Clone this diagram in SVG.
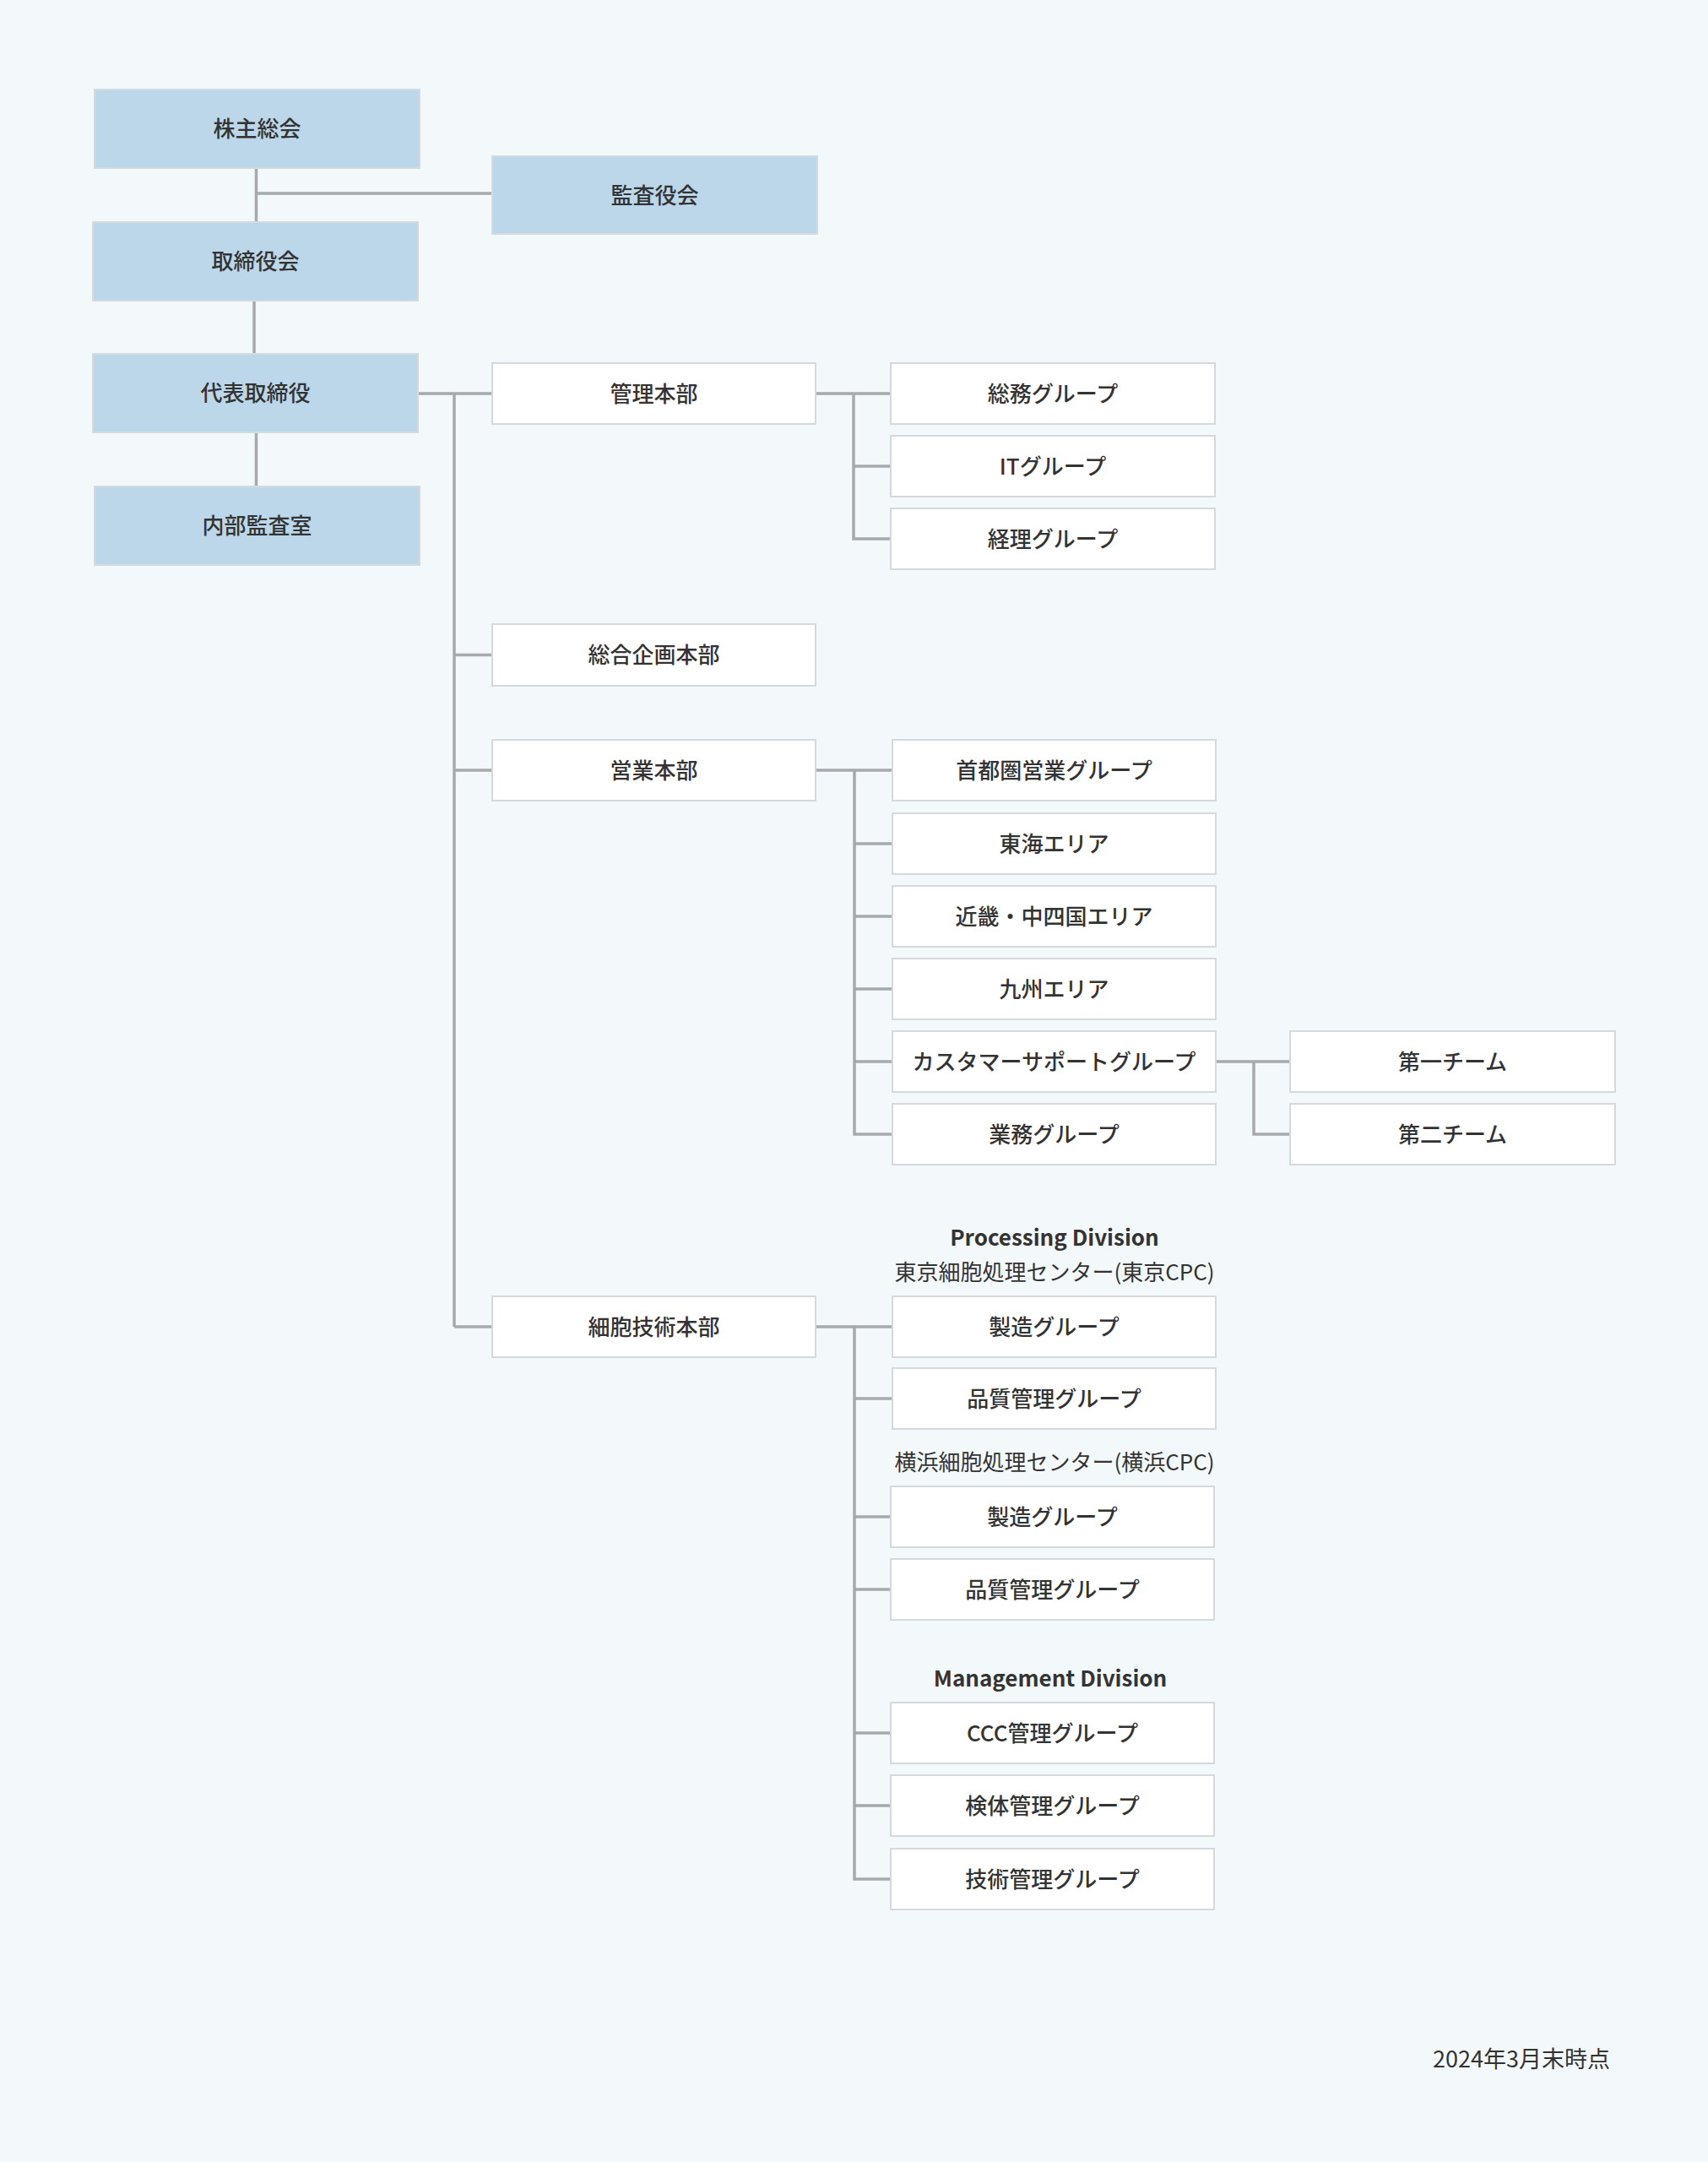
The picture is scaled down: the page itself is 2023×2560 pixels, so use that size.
<svg xmlns="http://www.w3.org/2000/svg" width="2023" height="2560" viewBox="0 0 2023 2560">
<style>
.bg{fill:#f3f8fb}
.top rect{fill:#bcd7ea;stroke:#d3dbe2;stroke-width:2}
.box rect{fill:#ffffff;stroke:#d5d8dc;stroke-width:2}
text{font-family:"Noto Sans CJK JP","Noto Sans",sans-serif;fill:#333333}
.lbl{font-size:26px;font-weight:500;text-anchor:middle;dominant-baseline:central}
.head{font-size:26px;font-weight:700;text-anchor:middle;dominant-baseline:central}
.sub{font-size:26px;font-weight:400;text-anchor:middle;dominant-baseline:central}
.date{font-size:27px;font-weight:400;text-anchor:end;dominant-baseline:central}
#connectors path{fill:none;stroke:#a8a9ac;stroke-width:3.5}
</style>
<rect class="bg" x="0" y="0" width="2023" height="2560"/>
<g id="connectors">
<path d="M303.5 199V263M303 229H583M301 356V419M303.5 512V576"/>
<path d="M495 466H583M538 466V1571M538 775.5H583M538 912H583M538 1571H583"/>
<path d="M967 466H1055M1011 466V638H1055M1011 552H1055"/>
<path d="M967 912H1057M1012 912V1343H1057M1012 999H1057M1012 1085H1057M1012 1171H1057M1012 1257H1057"/>
<path d="M1441 1257H1528M1485 1257V1343H1528"/>
<path d="M967 1571H1057M1012 1571V2225H1055M1012 1656H1057M1012 1796H1055M1012 1882H1055M1012 2052H1055M1012 2138H1055"/>
</g>
<g id="n-kabunushi" class="top"><rect x="112" y="106" width="385" height="93"/><text class="lbl" x="304.5" y="150.5">株主総会</text></g>
<g id="n-kansayakukai" class="top"><rect x="583" y="185" width="385" height="92"/><text class="lbl" x="775.5" y="229">監査役会</text></g>
<g id="n-torishimariyakukai" class="top"><rect x="110" y="263" width="385" height="93"/><text class="lbl" x="302.5" y="307.5">取締役会</text></g>
<g id="n-daihyo" class="top"><rect x="110" y="419" width="385" height="93"/><text class="lbl" x="302.5" y="463.5">代表取締役</text></g>
<g id="n-naibukansa" class="top"><rect x="112" y="576" width="385" height="93"/><text class="lbl" x="304.5" y="620.5">内部監査室</text></g>

<g id="n-kanri" class="box"><rect x="583" y="430" width="383" height="72"/><text class="lbl" x="774.5" y="464">管理本部</text></g>
<g id="n-somu" class="box"><rect x="1055" y="430" width="384" height="72"/><text class="lbl" x="1247" y="464">総務グループ</text></g>
<g id="n-it" class="box"><rect x="1055" y="516" width="384" height="72"/><text class="lbl" x="1247" y="550">ITグループ</text></g>
<g id="n-keiri" class="box"><rect x="1055" y="602" width="384" height="72"/><text class="lbl" x="1247" y="636">経理グループ</text></g>

<g id="n-sogokikaku" class="box"><rect x="583" y="739" width="383" height="73"/><text class="lbl" x="774.5" y="773.5">総合企画本部</text></g>

<g id="n-eigyo" class="box"><rect x="583" y="876" width="383" height="72"/><text class="lbl" x="774.5" y="910">営業本部</text></g>
<g id="n-shutoken" class="box"><rect x="1057" y="876" width="383" height="72"/><text class="lbl" x="1248.5" y="910">首都圏営業グループ</text></g>
<g id="n-tokai" class="box"><rect x="1057" y="963" width="383" height="72"/><text class="lbl" x="1248.5" y="997">東海エリア</text></g>
<g id="n-kinki" class="box"><rect x="1057" y="1049" width="383" height="72"/><text class="lbl" x="1248.5" y="1083">近畿・中四国エリア</text></g>
<g id="n-kyushu" class="box"><rect x="1057" y="1135" width="383" height="72"/><text class="lbl" x="1248.5" y="1169">九州エリア</text></g>
<g id="n-cs" class="box"><rect x="1057" y="1221" width="383" height="72"/><text class="lbl" x="1248.5" y="1255">カスタマーサポートグループ</text></g>
<g id="n-gyomu" class="box"><rect x="1057" y="1307" width="383" height="72"/><text class="lbl" x="1248.5" y="1341">業務グループ</text></g>
<g id="n-team1" class="box"><rect x="1528" y="1221" width="385" height="72"/><text class="lbl" x="1720.5" y="1255">第一チーム</text></g>
<g id="n-team2" class="box"><rect x="1528" y="1307" width="385" height="72"/><text class="lbl" x="1720.5" y="1341">第二チーム</text></g>

<g id="n-saibo" class="box"><rect x="583" y="1535" width="383" height="72"/><text class="lbl" x="774.5" y="1569">細胞技術本部</text></g>
<g id="l-processing"><text class="head" x="1249" y="1463">Processing Division</text></g>
<g id="l-tokyocpc"><text class="sub" x="1249" y="1504">東京細胞処理センター(東京CPC)</text></g>
<g id="n-tokyo-seizo" class="box"><rect x="1057" y="1535" width="383" height="72"/><text class="lbl" x="1248.5" y="1569">製造グループ</text></g>
<g id="n-tokyo-hinshitsu" class="box"><rect x="1057" y="1620" width="383" height="72"/><text class="lbl" x="1248.5" y="1654">品質管理グループ</text></g>
<g id="l-yokohamacpc"><text class="sub" x="1249" y="1729">横浜細胞処理センター(横浜CPC)</text></g>
<g id="n-yokohama-seizo" class="box"><rect x="1055" y="1760" width="383" height="72"/><text class="lbl" x="1246.5" y="1794">製造グループ</text></g>
<g id="n-yokohama-hinshitsu" class="box"><rect x="1055" y="1846" width="383" height="72"/><text class="lbl" x="1246.5" y="1880">品質管理グループ</text></g>
<g id="l-management"><text class="head" x="1244" y="1985">Management Division</text></g>
<g id="n-ccc" class="box"><rect x="1055" y="2016" width="383" height="72"/><text class="lbl" x="1246.5" y="2050">CCC管理グループ</text></g>
<g id="n-kentai" class="box"><rect x="1055" y="2102" width="383" height="72"/><text class="lbl" x="1246.5" y="2136">検体管理グループ</text></g>
<g id="n-gijutsu" class="box"><rect x="1055" y="2189" width="383" height="72"/><text class="lbl" x="1246.5" y="2223">技術管理グループ</text></g>

<g id="l-date"><text class="date" x="1907" y="2436">2024年3月末時点</text></g>
</svg>
